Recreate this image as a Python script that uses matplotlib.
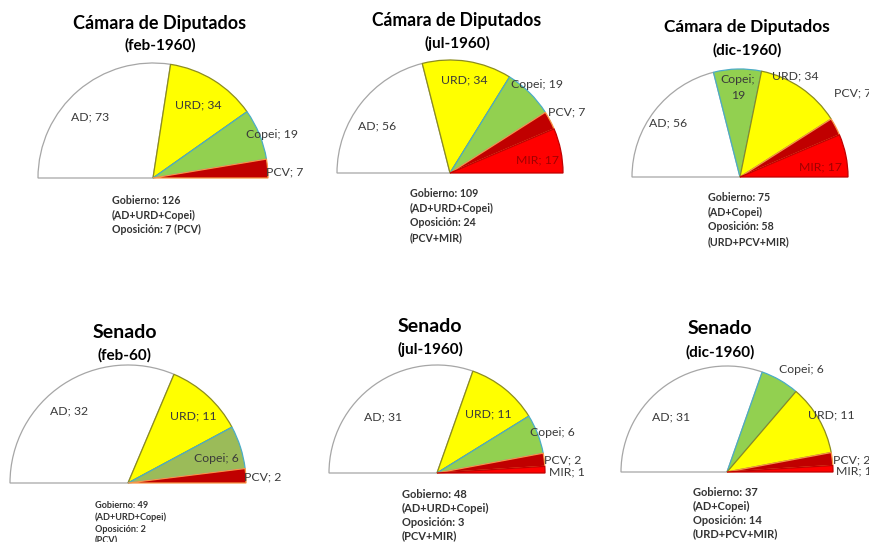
import numpy as np
import matplotlib
matplotlib.use('Agg')
import matplotlib.pyplot as plt

plt.rcParams['font.family'] = ['Lato', 'DejaVu Sans']

# Seats per party, one pair of lists per chart
DIP_FEB_PARTIES = ['AD', 'URD', 'Copei', 'PCV']
DIP_FEB_SEATS = [73, 34, 19, 7]
DIP_JUL_PARTIES = ['AD', 'URD', 'Copei', 'PCV', 'MIR']
DIP_JUL_SEATS = [56, 34, 19, 7, 17]
DIP_DIC_PARTIES = ['AD', 'Copei', 'URD', 'PCV', 'MIR']
DIP_DIC_SEATS = [56, 19, 34, 7, 17]
SEN_FEB_PARTIES = ['AD', 'URD', 'Copei', 'PCV']
SEN_FEB_SEATS = [32, 11, 6, 2]
SEN_JUL_PARTIES = ['AD', 'URD', 'Copei', 'PCV', 'MIR']
SEN_JUL_SEATS = [31, 11, 6, 2, 1]
SEN_DIC_PARTIES = ['AD', 'Copei', 'URD', 'PCV', 'MIR']
SEN_DIC_SEATS = [31, 6, 11, 2, 1]

TITLES = ['Cámara de Diputados', 'Cámara de Diputados', 'Cámara de Diputados',
          'Senado', 'Senado', 'Senado']
SUBTITLES = ['(feb-1960)', '(jul-1960)', '(dic-1960)', '(feb-60)', '(jul-1960)', '(dic-1960)']
NOTES = [
    'Gobierno: 126\n(AD+URD+Copei)\nOposición: 7 (PCV)',
    'Gobierno: 109\n(AD+URD+Copei)\nOposición: 24\n(PCV+MIR)',
    'Gobierno: 75\n(AD+Copei)\nOposición: 58\n(URD+PCV+MIR)',
    'Gobierno: 49\n(AD+URD+Copei)\nOposición: 2\n(PCV)',
    'Gobierno: 48\n(AD+URD+Copei)\nOposición: 3\n(PCV+MIR)',
    'Gobierno: 37\n(AD+Copei)\nOposición: 14\n(URD+PCV+MIR)',
]

FILL = {'AD': '#FFFFFF', 'URD': '#FFFF00', 'Copei': '#92D050', 'PCV': '#C00000', 'MIR': '#FF0000'}
EDGE = {'AD': '#A6A6A6', 'URD': '#8C8C1E', 'Copei': '#4BACC6', 'PCV': '#F79646', 'MIR': '#C00000'}

W, H = 870, 542

# layout for each chart: centre (px), radius, title pos, note pos, sizes, label (dist, angle shift)
charts = [
    dict(parties=DIP_FEB_PARTIES, seats=DIP_FEB_SEATS, c=(153, 178), r=115,
         tx=160, ty=23, sy=45, tsize=13, nx=112, ny=195, nsize=7.7, nls=1.4,
         lab=[(0.76, 5), (0.75, 0), (1.1, -2), (1.15, -2)]),
    dict(parties=DIP_JUL_PARTIES, seats=DIP_JUL_SEATS, c=(450, 173), r=113,
         tx=457, ty=20, sy=43, tsize=12.7, nx=410, ny=188, nsize=7.7, nls=1.4,
         lab=[(0.77, 5), (0.83, 0), (1.1, 0), (1.17, 0), (0.78, -3)]),
    dict(parties=DIP_DIC_PARTIES, seats=DIP_DIC_SEATS, c=(740, 177), r=108,
         tx=747, ty=27, sy=50, tsize=12.4, nx=708, ny=192, nsize=7.7, nls=1.4,
         lab=[(0.83, 1), (0.83, 0), (1.07, 6), (1.3, 9), (0.75, -4)]),
    dict(parties=SEN_FEB_PARTIES, seats=SEN_FEB_SEATS, c=(128, 483), r=118,
         tx=125, ty=333, sy=355, tsize=14, nx=95, ny=501, nsize=6.6, nls=1.36,
         lab=[(0.79, 6), (0.79, -2), (0.78, -2), (1.14, -1)]),
    dict(parties=SEN_JUL_PARTIES, seats=SEN_JUL_SEATS, c=(437, 473), r=108,
         tx=430, ty=327, sy=349, tsize=14, nx=402, ny=489, nsize=8, nls=1.32,
         lab=[(0.72, 9), (0.72, -2), (1.13, -2), (1.17, -1), (1.2, -1.3)]),
    dict(parties=SEN_DIC_PARTIES, seats=SEN_DIC_SEATS, c=(727, 472), r=106,
         tx=720, ty=328, sy=352, tsize=14, nx=693, ny=487, nsize=8, nls=1.32,
         lab=[(0.74, 10), (1.2, -6), (1.12, -1), (1.18, -1.5), (1.2, -1.3)]),
]

fig = plt.figure(figsize=(W / 100, H / 100), dpi=100)
ax = fig.add_axes([0, 0, 1, 1])

for i, ch in enumerate(charts):
    parties, seats = ch['parties'], ch['seats']
    fills = [FILL[p] for p in parties]
    if i == 3:
        fills[parties.index('Copei')] = '#9BBB59'   # olive copei in first senate chart
    cx, cy = ch['c'][0], H - ch['c'][1]
    # hidden lower half = total seats
    wedges, _ = ax.pie(seats + [sum(seats)], colors=fills + ['none'], startangle=180,
                       counterclock=False, center=(cx, cy), radius=ch['r'], frame=True,
                       wedgeprops=dict(linewidth=0.9))
    wedges[-1].set_visible(False)
    for w, p, (d, shift) in zip(wedges[:-1], parties, ch['lab']):
        w.set_edgecolor(EDGE[p])
        ang = np.deg2rad((w.theta1 + w.theta2) / 2 + shift)
        lx = cx + ch['r'] * d * np.cos(ang)
        ly = cy + ch['r'] * d * np.sin(ang)
        txt = f'{p}; {seats[parties.index(p)]}'
        if i == 2 and p == 'Copei':
            txt = 'Copei;\n19'
        col = '#A00000' if (p == 'MIR' and i < 3) else '#3A3A3A'
        ax.text(lx, ly, txt, ha='center', va='center', fontsize=8.8, color=col,
                linespacing=1.5)
    ax.text(ch['tx'], H - ch['ty'], TITLES[i], ha='center', va='center',
            fontsize=ch['tsize'], fontweight='bold', color='black')
    ax.text(ch['tx'], H - ch['sy'], SUBTITLES[i], ha='center', va='center',
            fontsize=11, fontweight='bold', color='black')
    ax.text(ch['nx'], H - ch['ny'], NOTES[i], ha='left', va='top',
            fontsize=ch['nsize'], fontweight='bold', color='#333333',
            linespacing=ch['nls'])

ax.set_xlim(0, W)
ax.set_ylim(0, H)
ax.set_aspect('equal')
ax.axis('off')

fig.savefig('out.png', dpi=100, facecolor='white')
